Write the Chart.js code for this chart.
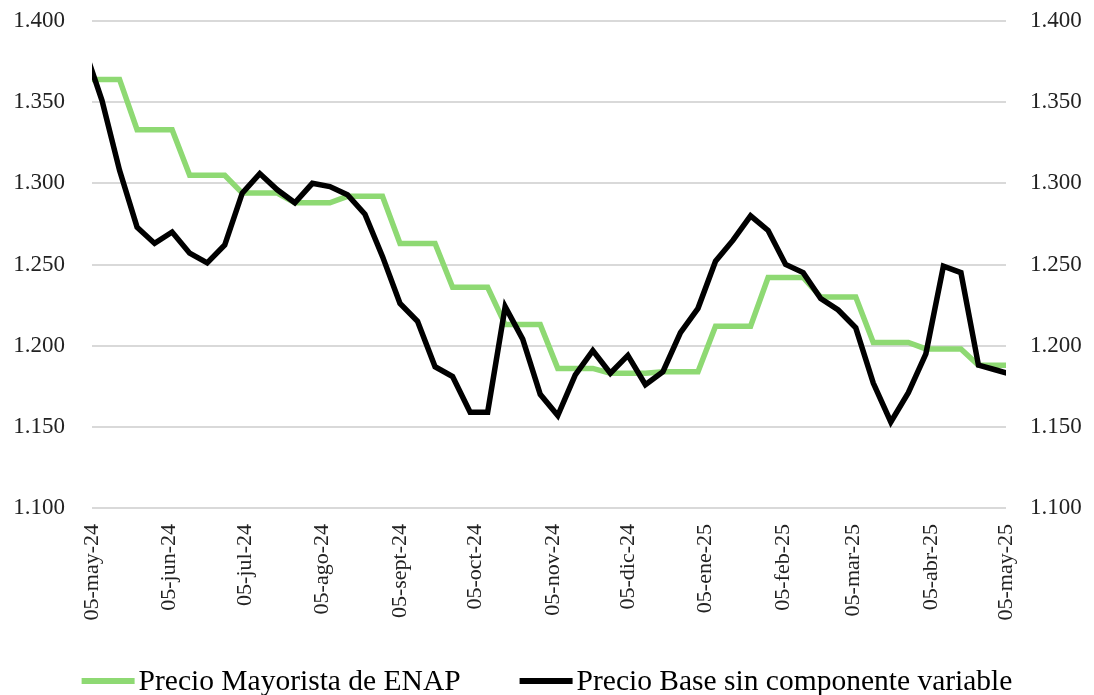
<!DOCTYPE html>
<html>
<head>
<meta charset="utf-8">
<script src="https://cdn.jsdelivr.net/npm/chart.js@4"></script>
<style>
    body { margin: 0; background: #fff; }
</style>
</head>
<body>
<canvas id="precios" width="1094" height="695"></canvas>
<script>
// Weekly dates (Thursdays)
const dates = [
    '2024-05-02', '2024-05-09', '2024-05-16', '2024-05-23', '2024-05-30',
    '2024-06-06', '2024-06-13', '2024-06-20', '2024-06-27',
    '2024-07-04', '2024-07-11', '2024-07-18', '2024-07-25',
    '2024-08-01', '2024-08-08', '2024-08-15', '2024-08-22', '2024-08-29',
    '2024-09-05', '2024-09-12', '2024-09-19', '2024-09-26',
    '2024-10-03', '2024-10-10', '2024-10-17', '2024-10-24', '2024-10-31',
    '2024-11-07', '2024-11-14', '2024-11-21', '2024-11-28',
    '2024-12-05', '2024-12-12', '2024-12-19', '2024-12-26',
    '2025-01-02', '2025-01-09', '2025-01-16', '2025-01-23', '2025-01-30',
    '2025-02-06', '2025-02-13', '2025-02-20', '2025-02-27',
    '2025-03-06', '2025-03-13', '2025-03-20', '2025-03-27',
    '2025-04-03', '2025-04-10', '2025-04-17', '2025-04-24',
    '2025-05-01', '2025-05-08'
];

const precioMayorista = [
    1.364, 1.364, 1.364, 1.333, 1.333, 1.333, 1.305, 1.305, 1.305,
    1.294, 1.294, 1.294, 1.288, 1.288, 1.288, 1.292, 1.292, 1.292,
    1.263, 1.263, 1.263, 1.236, 1.236, 1.236, 1.213, 1.213, 1.213,
    1.186, 1.186, 1.186, 1.183, 1.183, 1.183, 1.184, 1.184, 1.184,
    1.212, 1.212, 1.212, 1.242, 1.242, 1.242, 1.230, 1.230, 1.230,
    1.202, 1.202, 1.202, 1.198, 1.198, 1.198, 1.188, 1.188, 1.188
];

const precioBase = [
    1.383, 1.351, 1.308, 1.273, 1.263, 1.270, 1.257, 1.251, 1.262,
    1.294, 1.306, 1.296, 1.288, 1.300, 1.298, 1.293, 1.281, 1.255,
    1.226, 1.215, 1.187, 1.181, 1.159, 1.159, 1.224, 1.204, 1.170,
    1.157, 1.182, 1.197, 1.183, 1.194, 1.176, 1.184, 1.208, 1.223,
    1.252, 1.265, 1.280, 1.271, 1.250, 1.245, 1.229, 1.222, 1.211,
    1.177, 1.153, 1.171, 1.195, 1.249, 1.245, 1.188, 1.185, 1.182
];

// x axis ticks
const tickDates = [
    '2024-05-05', '2024-06-05', '2024-07-05', '2024-08-05', '2024-09-05',
    '2024-10-05', '2024-11-05', '2024-12-05', '2025-01-05', '2025-02-05',
    '2025-03-05', '2025-04-05', '2025-05-05'
];
const tickLabels = [
    '05-may-24', '05-jun-24', '05-jul-24', '05-ago-24', '05-sept-24',
    '05-oct-24', '05-nov-24', '05-dic-24', '05-ene-25', '05-feb-25',
    '05-mar-25', '05-abr-25', '05-may-25'
];

const base = Date.UTC(2024, 4, 5);
function dayOf(s) {
    const p = s.split('-').map(Number);
    return (Date.UTC(p[0], p[1] - 1, p[2]) - base) / 86400000;
}
const xDays = dates.map(dayOf);
const tickDays = tickDates.map(dayOf);

const serif = 'Liberation Serif';
const xFont = { family: serif, size: 22 };
const yFont = { family: serif, size: 23 };

// legend drawn under the axis labels: line sample + text, centered
const bottomLegend = {
    id: 'bottomLegend',
    afterDraw(chart) {
        const c = chart.ctx;
        const y = 681, lineW = 53, gap = 4, between = 59;
        c.save();
        c.font = '29.5px "' + serif + '"';
        c.textBaseline = 'middle';
        const sets = chart.data.datasets;
        const widths = sets.map(ds => c.measureText(ds.label).width);
        let total = 0;
        widths.forEach(w => { total += lineW + gap + w; });
        total += between * (sets.length - 1);
        let x = (chart.width - total) / 2;
        sets.forEach((ds, i) => {
            c.strokeStyle = ds.borderColor;
            c.lineWidth = 6;
            c.beginPath();
            c.moveTo(x, y);
            c.lineTo(x + lineW, y);
            c.stroke();
            c.fillStyle = '#000';
            c.fillText(ds.label, x + lineW + gap, y + 1);
            x += lineW + gap + widths[i] + between;
        });
        c.restore();
    },
};

// fixed axis sizes so the plot area sits where the original has it
function fitY(width) {
    return (axis) => {
        axis.width = width;
        axis.paddingTop = 0;
        axis.paddingBottom = 0;
    };
}

const ctx = document.getElementById('precios').getContext('2d');
const chart = new Chart(ctx, {
    type: 'line',
    data: {
        datasets: [
            {
                label: 'Precio Mayorista de ENAP',
                data: xDays.map((d, i) => ({ x: d, y: precioMayorista[i] })),
                borderColor: '#8ed973',
                backgroundColor: '#8ed973',
                borderWidth: 5.5,
                pointRadius: 0,
                order: 1,
            },
            {
                label: 'Precio Base sin componente variable',
                data: xDays.map((d, i) => ({ x: d, y: precioBase[i] })),
                borderColor: '#000000',
                backgroundColor: '#000000',
                borderWidth: 5.5,
                pointRadius: 0,
                order: 0,
            },
        ],
    },
    plugins: [bottomLegend],
    options: {
        responsive: false,
        animation: false,
        layout: { padding: { top: 21, left: 0, right: 0, bottom: 0 } },
        plugins: {
            tooltip: { enabled: false },
            legend: { display: false },
        },
        scales: {
            x: {
                type: 'linear',
                min: 0,
                max: 365,
                afterBuildTicks: (axis) => { axis.ticks = tickDays.map(v => ({ value: v })); },
                afterFit: (axis) => { axis.height = 187; },
                grid: { display: false, drawTicks: false },
                border: { display: false },
                ticks: {
                    autoSkip: false,
                    maxRotation: 90,
                    minRotation: 90,
                    padding: 16,
                    color: '#222',
                    font: xFont,
                    callback: (value, index) => tickLabels[index],
                },
            },
            y: {
                position: 'left',
                min: 1.1,
                max: 1.4,
                afterFit: fitY(92),
                grid: { color: '#d9d9d9', lineWidth: 2, drawTicks: false },
                border: { display: false },
                ticks: {
                    stepSize: 0.05,
                    padding: 27,
                    color: '#222',
                    font: yFont,
                    callback: (v) => v.toFixed(3),
                },
            },
            y2: {
                position: 'right',
                min: 1.1,
                max: 1.4,
                afterFit: fitY(88),
                grid: { display: false, drawTicks: false },
                border: { display: false },
                ticks: {
                    stepSize: 0.05,
                    padding: 24,
                    color: '#222',
                    font: yFont,
                    callback: (v) => v.toFixed(3),
                },
            },
        },
    },
});
</script>
</body>
</html>
